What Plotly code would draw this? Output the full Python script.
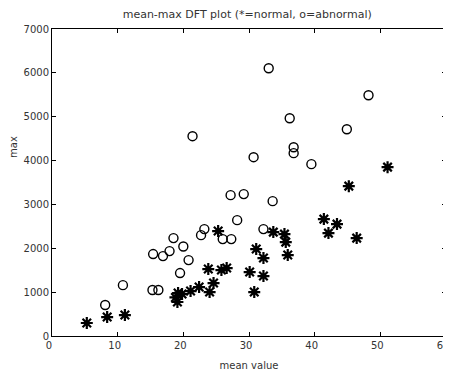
import plotly.graph_objects as go

# abnormal (o)
abn_x = [8.1, 10.8, 15.3, 16.2, 15.4, 16.9, 17.9, 18.5, 20.0, 20.8, 19.5,
         30.7, 36.8, 39.5, 27.2, 29.2, 33.6, 28.2, 23.2, 22.7, 26.0, 27.3,
         32.2, 48.2, 36.2, 44.9, 36.8, 33.0, 21.4]
abn_y = [706, 1160, 1050, 1050, 1868, 1822, 1936, 2232, 2040, 1731, 1435,
         4077, 4169, 3918, 3212, 3235, 3075, 2642, 2437, 2300, 2210, 2210,
         2437, 5490, 4966, 4715, 4305, 6105, 4556]

# normal (*)
nor_x = [5.3, 8.4, 11.1, 19.1, 19.2, 18.8, 19.8, 21.1, 22.4, 24.0, 24.6,
         23.8, 25.8, 26.6, 25.3, 30.1, 30.8, 32.2, 31.1, 32.2, 33.7, 35.4,
         35.6, 35.9, 41.4, 42.1, 45.2, 43.4, 46.4, 51.1]
nor_y = [296, 432, 478, 775, 980, 880, 957, 1025, 1116, 1002, 1207,
         1526, 1503, 1549, 2392, 1458, 1002, 1367, 1982, 1777, 2369, 2323,
         2141, 1845, 2665, 2346, 3417, 2551, 2232, 3850]

x_ticks = [0, 10, 20, 30, 40, 50, 60]
y_ticks = [0, 1000, 2000, 3000, 4000, 5000, 6000, 7000]

FONT = "DejaVu Sans, Liberation Sans, Arial"
TXT = "#333"

fig = go.Figure()
fig.add_trace(go.Scatter(x=abn_x, y=abn_y, mode="markers", name="abnormal",
                         marker=dict(symbol="circle-open", size=9,
                                     color="black", line=dict(width=1.4))))
fig.add_trace(go.Scatter(x=nor_x, y=nor_y, mode="markers", name="normal",
                         marker=dict(symbol="asterisk-open", size=10,
                                     color="black", line=dict(width=2.2))))

axis_common = dict(showgrid=False, zeroline=False, showline=True,
                   linecolor="black", linewidth=1, mirror="ticks",
                   ticks="inside", ticklen=4, tickcolor="black",
                   automargin=False,
                   tickfont=dict(family=FONT, size=10, color=TXT))

# page body has an 8px default margin, so the figure is sized to fit
fig.update_layout(
    width=443, height=363,
    margin=dict(l=44, r=5, t=21, b=35),
    paper_bgcolor="white", plot_bgcolor="white",
    showlegend=False,
    title=dict(text="mean-max DFT plot (*=normal, o=abnormal)",
               x=0.54, xanchor="center", y=0.982, yanchor="middle",
               font=dict(family=FONT, size=11, color=TXT)),
    xaxis=dict(range=[0, 60], tickvals=x_ticks, ticklabeloverflow="allow",
               ticklabelshift=-3,
               title=dict(text="mean value",
                          font=dict(family=FONT, size=10, color=TXT)),
               **axis_common),
    yaxis=dict(range=[0, 7000], tickvals=y_ticks, **axis_common),
    annotations=[dict(text="max", textangle=-90, xref="paper", yref="y",
                      x=0, y=4300, xanchor="right", yanchor="middle",
                      xshift=-31, showarrow=False,
                      font=dict(family=FONT, size=10, color=TXT))],
)

fig.write_html("out.html")
